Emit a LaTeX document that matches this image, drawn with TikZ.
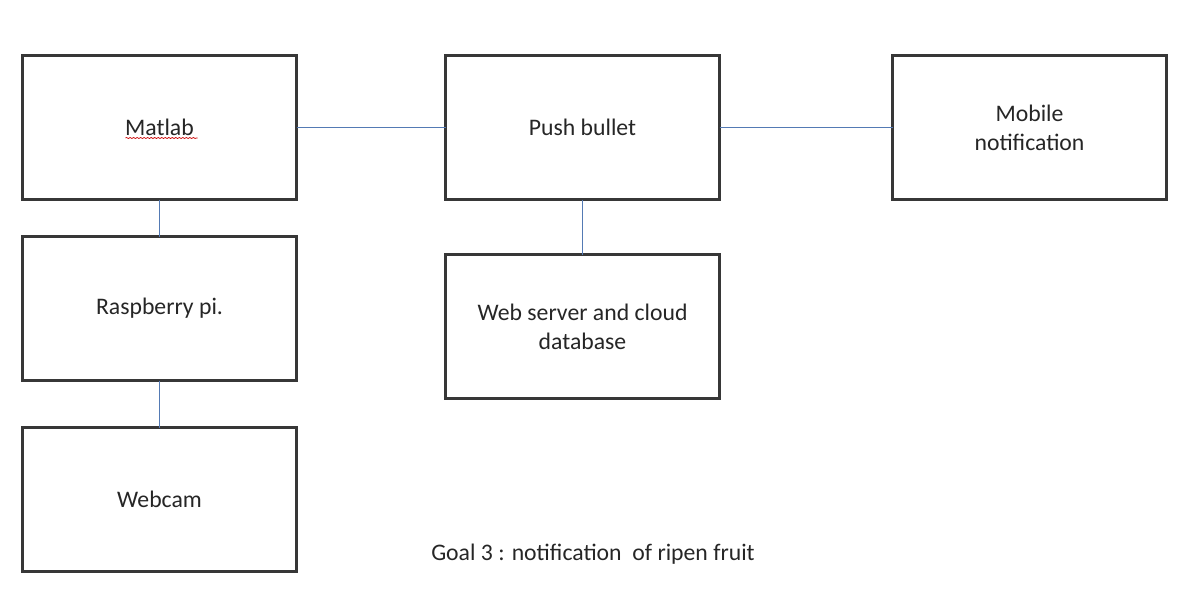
\documentclass[tikz,border=0pt]{standalone}
\usepackage{fontspec}
\setmainfont{Carlito}
\usepackage{tikz}
\usetikzlibrary{positioning, calc, decorations.pathmorphing}

\definecolor{boxline}{RGB}{55,55,55}
\definecolor{linkline}{RGB}{84,122,180}

\begin{document}
\begin{tikzpicture}[
    block/.style={rectangle, draw=boxline, line width=1.3pt, outer sep=0pt, fill=white, minimum width=5.48cm, minimum height=2.88cm, align=center, font=\fontsize{13.5}{16.5}\selectfont, text=black!85},
    link/.style={draw=linkline, line width=0.9pt},
    node distance=0.74cm
]
\useasboundingbox (0,0) rectangle (24,-12.24);

\node[block] (matlab) at (3.19,-2.55) {Matlab};
\node[block, right=2.98cm of matlab] (push) {Push bullet};
\node[block, right=3.46cm of push] (mobile) {Mobile\\notification};
\node[block, below=of matlab] (raspi) {Raspberry pi.};
\node[block, below=0.94cm of raspi] (webcam) {Webcam};
\node[block, below=1.1cm of push] (server) {Web server and cloud\\database};

\node[font=\fontsize{13.5}{16.5}\selectfont, text=black!85] (goal) at (11.86,-11.08) {Goal 3 : notification\ \ of ripen fruit};

% Links
\draw[link] (matlab) -- (push);
\draw[link] (push) -- (mobile);
\draw[link] (matlab) -- (raspi);
\draw[link] (raspi) -- (webcam);
\draw[link] (push) -- (server);

% spell check mark
\draw[red!80!black, line width=0.4pt, decorate, decoration={snake, amplitude=0.3pt, segment length=2pt}]
    ($(matlab.center)+(-0.68,-0.21)$) -- ($(matlab.center)+(0.76,-0.21)$);

\end{tikzpicture}
\end{document}
